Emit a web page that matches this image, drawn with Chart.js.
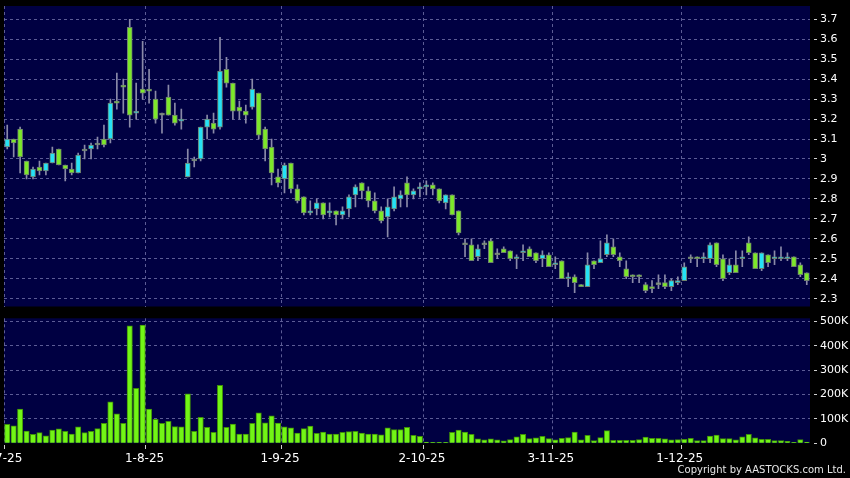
<!DOCTYPE html>
<html>
<head>
<meta charset="utf-8">
<script src="https://cdn.jsdelivr.net/npm/chart.js@4.4.1/dist/chart.umd.min.js"></script>
<style>
  html, body { margin: 0; padding: 0; background: #000; }
  #wrap { position: relative; width: 850px; height: 478px; background: #000; overflow: hidden; }
  #priceChart { position: absolute; left: 0; top: 0; }
  #volChart { position: absolute; left: 0; top: 310px; }
  #copy { position: absolute; right: 4px; top: 464px; line-height: 12px; color: #e6e6e6; font-family: 'DejaVu Sans', sans-serif; font-size: 10px; }
</style>
</head>
<body>
<div id="wrap">
  <canvas id="priceChart" width="850" height="310"></canvas>
  <canvas id="volChart" width="850" height="168"></canvas>
  <div id="copy">Copyright by AASTOCKS.com Ltd.</div>
</div>
<script>
// daily candles, 2 Jul 2025 -> end of Dec 2025
const open = [3.06,3.10,3.15,2.99,2.91,2.96,2.94,2.98,3.05,2.97,
  2.95,2.93,3.04,3.05,3.07,3.10,3.10,3.29,3.37,3.66,
  3.23,3.35,3.35,3.30,3.22,3.31,3.22,3.19,2.91,2.99,
  3.00,3.16,3.18,3.16,3.45,3.38,3.26,3.24,3.26,3.33,
  3.15,3.06,2.91,2.90,2.98,2.85,2.81,2.73,2.75,2.78,
  2.73,2.74,2.72,2.75,2.82,2.88,2.84,2.79,2.74,2.71,
  2.75,2.80,2.88,2.82,2.85,2.86,2.87,2.85,2.78,2.82,
  2.74,2.57,2.57,2.51,2.57,2.59,2.52,2.55,2.54,2.50,
  2.53,2.55,2.53,2.50,2.52,2.47,2.49,2.40,2.41,2.37,
  2.36,2.49,2.48,2.52,2.56,2.51,2.45,2.42,2.42,2.37,
  2.36,2.37,2.38,2.36,2.38,2.39,2.50,2.51,2.50,2.50,
  2.58,2.50,2.43,2.47,2.50,2.58,2.53,2.45,2.52,2.50,
  2.50,2.50,2.51,2.47,2.43];
const high = [3.17,3.10,3.16,2.99,2.96,2.99,2.98,3.06,3.05,2.97,
  2.98,3.03,3.07,3.08,3.11,3.17,3.30,3.43,3.40,3.70,
  3.38,3.59,3.45,3.34,3.23,3.37,3.28,3.25,3.05,3.01,
  3.16,3.22,3.23,3.61,3.51,3.38,3.29,3.27,3.40,3.33,
  3.16,3.10,2.95,2.98,2.98,2.87,2.81,2.79,2.80,2.78,
  2.78,2.74,2.76,2.82,2.87,2.88,2.86,2.83,2.76,2.80,
  2.86,2.84,2.91,2.85,2.88,2.89,2.88,2.85,2.82,2.82,
  2.74,2.60,2.60,2.57,2.59,2.60,2.55,2.56,2.54,2.52,
  2.57,2.56,2.53,2.54,2.53,2.51,2.49,2.43,2.42,2.37,
  2.53,2.49,2.59,2.62,2.60,2.53,2.49,2.42,2.42,2.38,
  2.39,2.42,2.42,2.40,2.41,2.48,2.52,2.51,2.53,2.58,
  2.58,2.52,2.50,2.54,2.54,2.61,2.53,2.53,2.52,2.54,
  2.56,2.53,2.51,2.48,2.43];
const low = [3.05,3.01,2.93,2.90,2.90,2.92,2.92,2.98,2.97,2.89,
  2.92,2.93,3.00,3.00,3.05,3.06,3.08,3.25,3.23,3.16,
  3.20,3.30,3.28,3.18,3.13,3.22,3.17,3.15,2.91,2.96,
  2.99,3.10,3.13,3.15,3.36,3.20,3.20,3.18,3.25,3.10,
  2.99,2.87,2.86,2.83,2.83,2.78,2.72,2.72,2.72,2.70,
  2.71,2.67,2.70,2.71,2.76,2.80,2.76,2.73,2.68,2.61,
  2.74,2.76,2.76,2.80,2.81,2.82,2.82,2.78,2.75,2.72,
  2.62,2.51,2.49,2.49,2.55,2.48,2.50,2.53,2.49,2.45,
  2.49,2.51,2.48,2.46,2.46,2.45,2.40,2.36,2.33,2.36,
  2.36,2.45,2.48,2.51,2.51,2.46,2.40,2.38,2.38,2.33,
  2.33,2.35,2.35,2.34,2.37,2.39,2.48,2.46,2.48,2.48,
  2.46,2.39,2.42,2.43,2.46,2.52,2.45,2.44,2.46,2.47,
  2.49,2.49,2.46,2.41,2.37];
const close = [3.10,3.08,3.01,2.92,2.95,2.94,2.98,3.03,2.97,2.95,
  2.93,3.02,3.04,3.07,3.07,3.07,3.28,3.28,3.36,3.22,
  3.24,3.33,3.34,3.20,3.22,3.22,3.18,3.20,2.98,2.99,
  3.16,3.20,3.15,3.44,3.38,3.24,3.24,3.22,3.35,3.12,
  3.05,2.93,2.88,2.97,2.85,2.79,2.73,2.74,2.78,2.72,
  2.74,2.72,2.74,2.81,2.86,2.84,2.79,2.74,2.69,2.76,
  2.81,2.82,2.82,2.84,2.86,2.87,2.85,2.79,2.82,2.72,
  2.63,2.57,2.49,2.55,2.57,2.48,2.52,2.53,2.50,2.51,
  2.54,2.51,2.49,2.52,2.46,2.48,2.40,2.41,2.38,2.36,
  2.47,2.47,2.50,2.58,2.52,2.49,2.41,2.41,2.41,2.34,
  2.35,2.37,2.36,2.39,2.39,2.46,2.50,2.50,2.51,2.57,
  2.47,2.40,2.47,2.43,2.51,2.53,2.45,2.53,2.48,2.51,
  2.51,2.51,2.46,2.42,2.39];
// volume in thousands of shares
const volume = [78,72,140,50,37,44,31,54,59,49,
  38,67,44,49,60,82,170,121,82,481,
  225,484,140,98,82,90,68,67,203,49,
  106,65,45,237,65,79,38,38,82,125,
  84,113,83,67,63,42,60,71,41,46,
  38,38,45,48,49,42,38,38,35,63,
  56,56,65,33,29,5,4,4,4,45,
  54,46,37,18,14,18,14,10,15,26,
  37,19,22,29,19,14,20,23,46,14,
  33,11,23,52,12,12,12,12,15,25,
  20,20,18,14,15,16,20,11,11,30,
  34,19,19,14,27,37,22,16,16,11,
  11,8,4,15,5];

const monthStart = [0, 22, 43, 65, 85, 105];
const monthLabels = ['2-7-25', '1-8-25', '1-9-25', '2-10-25', '3-11-25', '1-12-25'];
const priceTicks = [2.3, 2.4, 2.5, 2.6, 2.7, 2.8, 2.9, 3.0, 3.1, 3.2, 3.3, 3.4, 3.5, 3.6, 3.7];
const volTicks = [0, 100, 200, 300, 400, 500];
const days = open.map((v, i) => i);

const NAVY = '#000042';
const GRID = 'rgba(115,115,170,0.8)';
const UP = '#25e2f6';
const DOWN = '#7de82a';
const DOJI = '#8f9d8a';
const WICK = '#8a8aa8';
const VOL = '#72f516';
const axisFont = { family: 'DejaVu Sans', size: 11 };

const plotBg = {
    id: 'plotBg',
    beforeDraw(chart) {
        const a = chart.chartArea;
        const ctx = chart.ctx;
        ctx.save();
        ctx.fillStyle = NAVY;
        ctx.fillRect(a.left, a.top, a.right - a.left, a.bottom - a.top);
        ctx.restore();
    }
};

function xScale(showLabels) {
    return {
        type: 'category',
        offset: true,
        grid: {
            offset: true,
            color: c => monthStart.includes(c.index) ? GRID : 'transparent',
            drawTicks: showLabels,
            tickLength: 6,
            tickColor: c => monthStart.includes(c.index) ? '#d0d0d0' : 'transparent',
            tickBorderDash: [0, 2, 4, 50]
        },
        border: { display: false, dash: [3, 3] },
        ticks: {
            display: showLabels,
            autoSkip: false,
            maxRotation: 0,
            labelOffset: -4.5,
            padding: 2,
            color: '#ffffff',
            font: { family: 'DejaVu Sans', size: 12 },
            callback: (v, i) => {
                const k = monthStart.indexOf(i);
                return k < 0 ? '' : monthLabels[k];
            }
        },
        afterFit: s => {
            s.paddingLeft = 0;
            s.paddingRight = 0;
            s.height = showLabels ? 34.7 : 0;
        }
    };
}

function yScale(min, max, tickVals, fmt, hideZero) {
    return {
        position: 'right',
        min: min,
        max: max,
        afterBuildTicks: s => { s.ticks = tickVals.map(v => ({ value: v })); },
        afterFit: s => { s.width = 40; s.paddingTop = 0; s.paddingBottom = 0; },
        grid: {
            color: c => (hideZero && c.tick && c.tick.value === 0) ? 'transparent' : GRID,
            tickColor: '#d0d0d0',
            tickLength: 7,
            tickBorderDash: [0, 4, 3, 50]
        },
        border: { display: false, dash: [3, 3] },
        ticks: { color: '#ffffff', padding: 3, font: axisFont, callback: fmt }
    };
}

const bodyColor = open.map((o, i) => close[i] > o ? UP : (close[i] < o ? DOWN : DOJI));

new Chart(document.getElementById('priceChart'), {
    type: 'bar',
    data: {
        labels: days,
        datasets: [{
            data: open.map((o, i) => [o, close[i]]),
            backgroundColor: bodyColor,
            borderColor: '#6e806e',
            borderWidth: 1,
            borderSkipped: false,
            barThickness: 5,
            minBarLength: 2,
            grouped: false,
            order: 0
        }, {
            data: low.map((l, i) => [l, high[i]]),
            backgroundColor: WICK,
            barThickness: 1,
            grouped: false,
            order: 1
        }]
    },
    options: {
        responsive: false,
        animation: false,
        layout: { padding: { left: 4, top: 6, right: 0, bottom: 3.5 } },
        plugins: { legend: { display: false }, tooltip: { enabled: false } },
        scales: {
            x: xScale(false),
            y: yScale(2.2607, 3.7668, priceTicks, v => String(Number(v.toFixed(1))), false)
        }
    },
    plugins: [plotBg]
});

new Chart(document.getElementById('volChart'), {
    type: 'bar',
    data: {
        labels: days,
        datasets: [{
            data: volume,
            backgroundColor: VOL,
            borderColor: '#3f8f08',
            borderWidth: { top: 1, left: 1, right: 1, bottom: 0 },
            barThickness: 5.4
        }]
    },
    options: {
        responsive: false,
        animation: false,
        layout: { padding: { left: 4, top: 8.3, right: 0, bottom: 0 } },
        plugins: { legend: { display: false }, tooltip: { enabled: false } },
        scales: {
            x: xScale(true),
            y: yScale(0, 512, volTicks, v => v === 0 ? '0' : v + 'K', true)
        }
    },
    plugins: [plotBg]
});
</script>
</body>
</html>
